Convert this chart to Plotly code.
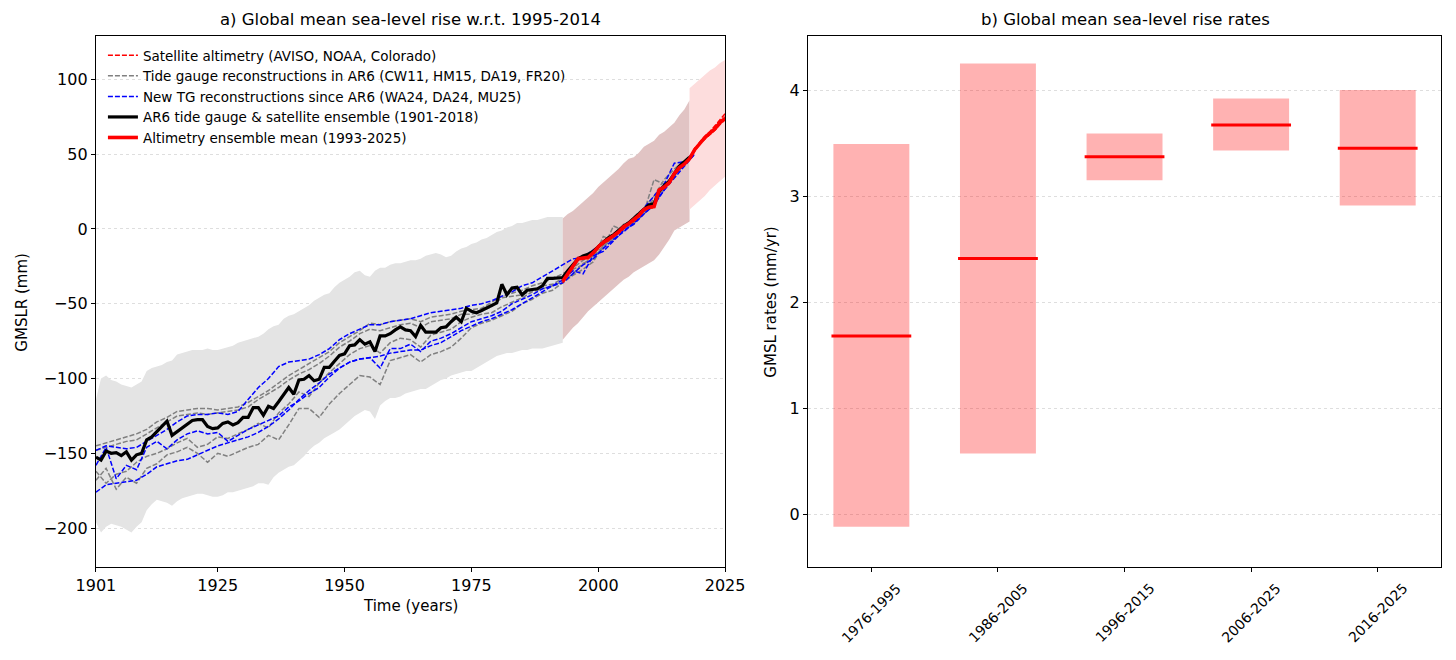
import plotly.graph_objects as go

# ---- panel a: time series (mm, w.r.t. 1995-2014) ----
years_ar6 = list(range(1901, 2019))
ar6_mean = [
    -152.5, -154.5, -148.5, -150, -149.5, -151.5, -149, -154.5, -151, -150,
    -141, -139, -135.5, -132, -128.5, -138, -135.5, -133, -130, -128,
    -127.5, -127.5, -132, -133.5, -133, -130, -129, -131, -129.5, -126,
    -126, -119.5, -119.5, -124.5, -118.5, -120, -115.5, -111, -106, -110.5,
    -101, -100.5, -98, -101.5, -100.5, -92.5, -92.5, -88.5, -84.5, -83.5,
    -78, -77.5, -74, -77, -75.5, -82, -71.5, -71.5, -70, -67.5,
    -65.5, -67.5, -68, -72, -64.5, -69, -69, -69, -66, -65.5,
    -62, -59, -62, -53, -55, -56, -54.5, -53, -51.5, -49.5,
    -37, -44, -39.5, -39, -44, -41, -40.5, -40, -38, -33,
    -33, -33, -32.5, -28, -24, -20, -18, -17, -15, -12,
    -9, -6, -4, -1, 2, 4, 7, 10, 13, 16,
    17, 25, 29, 32, 37, 42, 45, 48,
]

years_alt = list(range(1993, 2026))
alt_mean = [
    -35, -30, -25.5, -20, -19.5, -19, -16, -12, -9, -7,
    -4.5, -2, 1.5, 3.5, 6, 9, 13, 14.5, 15, 26,
    28, 31, 37, 41, 43.5, 47, 53, 57, 61, 64,
    67, 71, 74,
]
alt_aviso = [
    -33, -29, -24, -21, -18, -18, -15, -11, -8, -6,
    -3, -1, 2, 4, 7, 10, 13, 14, 17, 25,
    29, 32, 37, 42, 45, 48, 53, 58, 62, 65,
    69, 73, 77,
]
alt_noaa = [
    -36, -31, -26, -20, -20, -19, -16, -12, -10, -7,
    -5, -2, 1, 4, 6, 9, 12, 15, 16, 26,
    28, 31, 38, 41, 44, 47, 52, 57, 61, 64,
    68, 72, 75,
]
alt_colorado = [
    -35, -30, -25, -19, -19, -20, -16, -13, -9, -8,
    -4, -3, 0, 3, 5, 8, 13, 14, 14, 25,
    27, 30, 36, 40, 43, 46, 54, 57, 60, 63,
    66, 70, 73,
]

# tide gauge reconstructions, read every second year
years_tg = list(range(1901, 2020, 2))
tg_cw11 = [
    -145, -143, -141, -139, -137, -134, -129, -126, -122, -121,
    -120, -120, -121, -120, -119, -116, -112, -108, -103, -98,
    -94, -90, -86, -82, -76, -72, -68, -63, -64, -62,
    -61, -60, -62, -59, -58, -57, -55, -54, -53, -49,
    -45, -43, -41, -38, -36, -33, -30, -26, -21, -17,
    -12, -6, 0, 4, 12, 20, 28, 37, 45, None,
]
tg_hm15 = [
    -148, -146, -144, -142, -141, -137, -133, -129, -125, -124,
    -123, -124, -123, -122, -121, -119, -114, -110, -106, -101,
    -97, -94, -90, -85, -79, -75, -70, -67, -68, -66,
    -64, -63, -66, -62, -61, -60, -57, -57, -55, -52,
    -46, -45, -44, -41, -38, -37, -33, -27, -24, -18,
    -13, 2, -1, 8, 14, 22, 33, 40, 46, None,
]
tg_da19 = [
    -168, -160, -174, -166, -170, -160, -157, -151, -149, -146,
    -150, -156, -150, -152, -149, -146, -144, -138, -141, -131,
    -120, -120, -126, -117, -110, -104, -98, -99, -104, -88,
    -86, -84, -89, -84, -82, -79, -73, -66, -63, -61,
    -58, -55, -50, -47, -43, -41, -36, -31, -27, -22,
    -11, -6, 2, 4, 10, 16, 27, 36, 44, None,
]
tg_fr20 = [
    -162, -170, -164, -162, -156, -152, -150, -147, -143, -140,
    -146, -144, -139, -140, -137, -134, -130, -133, -123, -117,
    -109, -112, -103, -96, -90, -84, -80, -78, -83, -76,
    -73, -74, -79, -71, -69, -67, -62, -59, -57, -56,
    -52, -49, -46, -42, -40, -38, -35, -30, -23, -20,
    -5, -8, 3, 6, 11, 33, 30, 35, 44, None,
]
tg_wa24 = [
    -148, -145, -146, -147, -146, -142, -138, -134, -129, -125,
    -124, -124, -123, -124, -122, -114, -106, -100, -92, -89,
    -88, -87, -84, -80, -74, -70, -67, -64, -64, -62,
    -61, -60, -58, -56, -55, -54, -53, -51, -50, -48,
    -45, -42, -38, -36, -32, -28, -24, -20, -19, -14,
    -9, -5, 0, 6, 14, 22, 30, 44, 45, 52,
]
tg_da24 = [
    -158, -146, -167, -158, -161, -146, -142, -147, -141, -137,
    -135, -137, -136, -142, -138, -134, -131, -128, -125, -119,
    -115, -110, -106, -99, -93, -89, -87, -86, -93, -80,
    -80, -77, -82, -75, -73, -70, -66, -62, -60, -58,
    -55, -50, -47, -44, -40, -38, -34, -28, -30, -18,
    -15, -8, -1, 3, 10, 16, 26, 34, 42, 50,
]
tg_mu25 = [
    -176, -171, -170, -169, -168, -164, -159, -157, -155, -154,
    -151, -148, -145, -143, -141, -139, -136, -132, -127, -121,
    -114, -108, -103, -97, -93, -89, -87, -86, -85, -83,
    -82, -81, -81, -78, -76, -72, -68, -65, -62, -60,
    -57, -54, -50, -46, -42, -38, -36, -30, -24, -20,
    -13, -7, -2, 4, 10, 17, 26, 36, 43, 50,
]

# uncertainty envelopes
years_tg_band = list(range(1901, 1994))
tg_band_hi = [
    -114, -100, -98, -101, -102, -104, -105, -106, -104, -102,
    -95, -93, -92, -91, -89, -88, -84, -83, -82, -81,
    -81, -81, -80, -81, -81, -80, -79, -78, -76, -75,
    -74, -73, -72, -70, -67, -65, -64, -60, -58, -57,
    -55, -53, -51, -48, -46, -44, -43, -39, -36, -34,
    -32, -29, -28, -31, -32, -28, -26, -26, -24, -23,
    -23, -22, -21, -21, -20, -18, -17, -16, -17, -19,
    -18, -15, -13, -12, -10, -9, -7, -6, -4, -2,
    -1, 1, 2, 4, 4, 5, 6, 6, 7, 8,
    8, 8, 8,
]
tg_band_lo = [
    -196, -203, -199, -197, -198, -199, -201, -203, -199, -196,
    -188, -184, -181, -182, -183, -185, -182, -180, -179, -178,
    -177, -177, -178, -179, -179, -178, -176, -176, -175, -174,
    -173, -172, -170, -170, -171, -166, -163, -161, -159, -158,
    -155, -152, -148, -145, -143, -140, -138, -136, -134, -131,
    -128, -125, -123, -121, -122, -127, -118, -115, -113, -113,
    -112, -110, -109, -108, -107, -107, -105, -103, -101, -100,
    -98, -97, -96, -95, -95, -93, -91, -89, -87, -85,
    -84, -83, -83, -82, -81, -81, -80, -80, -80, -79,
    -78, -77, -76,
]
years_sat_band = list(range(1993, 2019))
sat_band_hi = [
    7, 10, 12, 15, 18, 21, 24, 28, 31, 34,
    37, 40, 44, 47, 48, 51, 55, 57, 59, 63,
    65, 68, 71, 76, 80, 86,
]
sat_band_lo = [
    -74, -70, -66, -63, -59, -55, -52, -49, -46, -43,
    -40, -37, -34, -32, -29, -27, -25, -23, -21, -17,
    -12, -7, -1, 1, 3, 5,
]
years_ext_band = list(range(2018, 2026))
ext_band_hi = [94, 97, 100, 103, 106, 108, 111, 113]
ext_band_lo = [13, 16, 19, 22, 26, 29, 32, 35]

# ---- panel b: rates (mm/yr) ----
periods = ["1976-1995", "1986-2005", "1996-2015", "2006-2025", "2016-2025"]
rate_low = [-0.12, 0.57, 3.15, 3.43, 2.91]
rate_high = [3.49, 4.25, 3.59, 3.92, 4.00]
rate_mean = [1.68, 2.41, 3.37, 3.67, 3.45]

FONT = "DejaVu Sans"

fig = go.Figure()


def band(x, lo, hi, color):
    fig.add_trace(go.Scatter(
        x=x + x[::-1], y=hi + lo[::-1], fill="toself", fillcolor=color,
        line=dict(width=0), mode="lines", hoverinfo="skip", showlegend=False,
        xaxis="x", yaxis="y"))


band(years_tg_band, tg_band_lo, tg_band_hi, "rgb(228,228,228)")
band(years_sat_band, sat_band_lo, sat_band_hi, "rgb(225,196,196)")
band(years_ext_band, ext_band_lo, ext_band_hi, "rgb(253,221,221)")

dashed = [
    (years_alt, [alt_aviso, alt_noaa, alt_colorado], "red",
     "Satellite altimetry (AVISO, NOAA, Colorado)", 1),
    (years_tg, [tg_cw11, tg_hm15, tg_da19, tg_fr20], "rgb(128,128,128)",
     "Tide gauge reconstructions in AR6 (CW11, HM15, DA19, FR20)", 2),
    (years_tg, [tg_wa24, tg_da24, tg_mu25], "blue",
     "New TG reconstructions since AR6 (WA24, DA24, MU25)", 3),
]
for x, series, color, name, rank in dashed[1:] + dashed[:1]:
    for k, s in enumerate(series):
        fig.add_trace(go.Scatter(
            x=x, y=s, mode="lines", name=name, legendgroup=name,
            showlegend=(k == 0), legendrank=rank,
            line=dict(color=color, width=1.5, dash="5px,2px"),
            xaxis="x", yaxis="y"))

fig.add_trace(go.Scatter(
    x=years_ar6, y=ar6_mean, mode="lines", legendrank=4,
    name="AR6 tide gauge & satellite ensemble (1901-2018)",
    line=dict(color="black", width=3.2), xaxis="x", yaxis="y"))
fig.add_trace(go.Scatter(
    x=years_alt, y=alt_mean, mode="lines", legendrank=5,
    name="Altimetry ensemble mean (1993-2025)",
    line=dict(color="red", width=3.6), xaxis="x", yaxis="y"))

# rates panel
fig.add_trace(go.Bar(
    x=periods, y=[h - l for h, l in zip(rate_high, rate_low)], base=rate_low,
    width=0.6, marker=dict(color="rgba(255,0,0,0.3)", line=dict(width=0)),
    showlegend=False, xaxis="x2", yaxis="y2"))
fig.add_trace(go.Scatter(
    x=periods, y=rate_mean, mode="markers", showlegend=False,
    marker=dict(symbol="line-ew", size=57, line=dict(color="red", width=3)),
    xaxis="x2", yaxis="y2"))

axis_common = dict(showline=True, mirror=True, linecolor="black", linewidth=1.2,
                   ticks="outside", ticklen=4, tickcolor="black", zeroline=False,
                   tickfont=dict(size=16), automargin=False)
grid = dict(showgrid=True, gridcolor="rgb(222,222,222)", griddash="dot", gridwidth=0.7)

# rotated period labels, centred under their ticks like the original
period_labels = [
    dict(text=p, x=p, y=0.0833, xref="x2", yref="paper", xanchor="center",
         yanchor="middle", textangle=-45, showarrow=False, font=dict(size=14))
    for p in periods
]

# page body adds an 8px offset, domains are set against that
fig.update_layout(
    width=1456, height=660,
    margin=dict(l=0, r=0, t=0, b=0),
    paper_bgcolor="white", plot_bgcolor="white",
    font=dict(family=FONT, size=15, color="black"),
    xaxis=dict(domain=[0.0604, 0.4925], range=[1901, 2025],
               tickvals=[1901, 1925, 1950, 1975, 2000, 2025],
               showgrid=False, **axis_common),
    yaxis=dict(domain=[0.1530, 0.9576], range=[-226, 129],
               tickvals=[-200, -150, -100, -50, 0, 50, 100], **grid, **axis_common),
    xaxis2=dict(domain=[0.5495, 0.9842], anchor="y2", type="category",
                range=[-0.5, 4.5], showticklabels=False, showgrid=False,
                **axis_common),
    yaxis2=dict(domain=[0.1530, 0.9576], anchor="x2", range=[-0.5, 4.51],
                tickvals=[0, 1, 2, 3, 4], **grid, **axis_common),
    legend=dict(x=0.0652, y=0.9515, xanchor="left", yanchor="top",
                bgcolor="rgba(0,0,0,0)", font=dict(size=13.5),
                tracegroupgap=0, itemwidth=30),
    showlegend=True,
    annotations=[
        dict(text="a) Global mean sea-level rise w.r.t. 1995-2014", x=0.2761, y=0.982,
             xref="paper", yref="paper", xanchor="center", yanchor="middle",
             showarrow=False, font=dict(size=16.5)),
        dict(text="b) Global mean sea-level rise rates", x=0.7672, y=0.982,
             xref="paper", yref="paper", xanchor="center", yanchor="middle",
             showarrow=False, font=dict(size=16.5)),
        dict(text="Time (years)", x=0.2761, y=0.094, xref="paper", yref="paper",
             xanchor="center", yanchor="middle", showarrow=False, font=dict(size=15)),
        dict(text="GMSLR (mm)", x=0.0096, y=0.555, xref="paper", yref="paper",
             xanchor="center", yanchor="middle", showarrow=False, textangle=-90,
             font=dict(size=15)),
        dict(text="GMSL rates (mm/yr)", x=0.524, y=0.555, xref="paper", yref="paper",
             xanchor="center", yanchor="middle", showarrow=False, textangle=-90,
             font=dict(size=15)),
    ] + period_labels,
)

fig.write_html("out.html")
